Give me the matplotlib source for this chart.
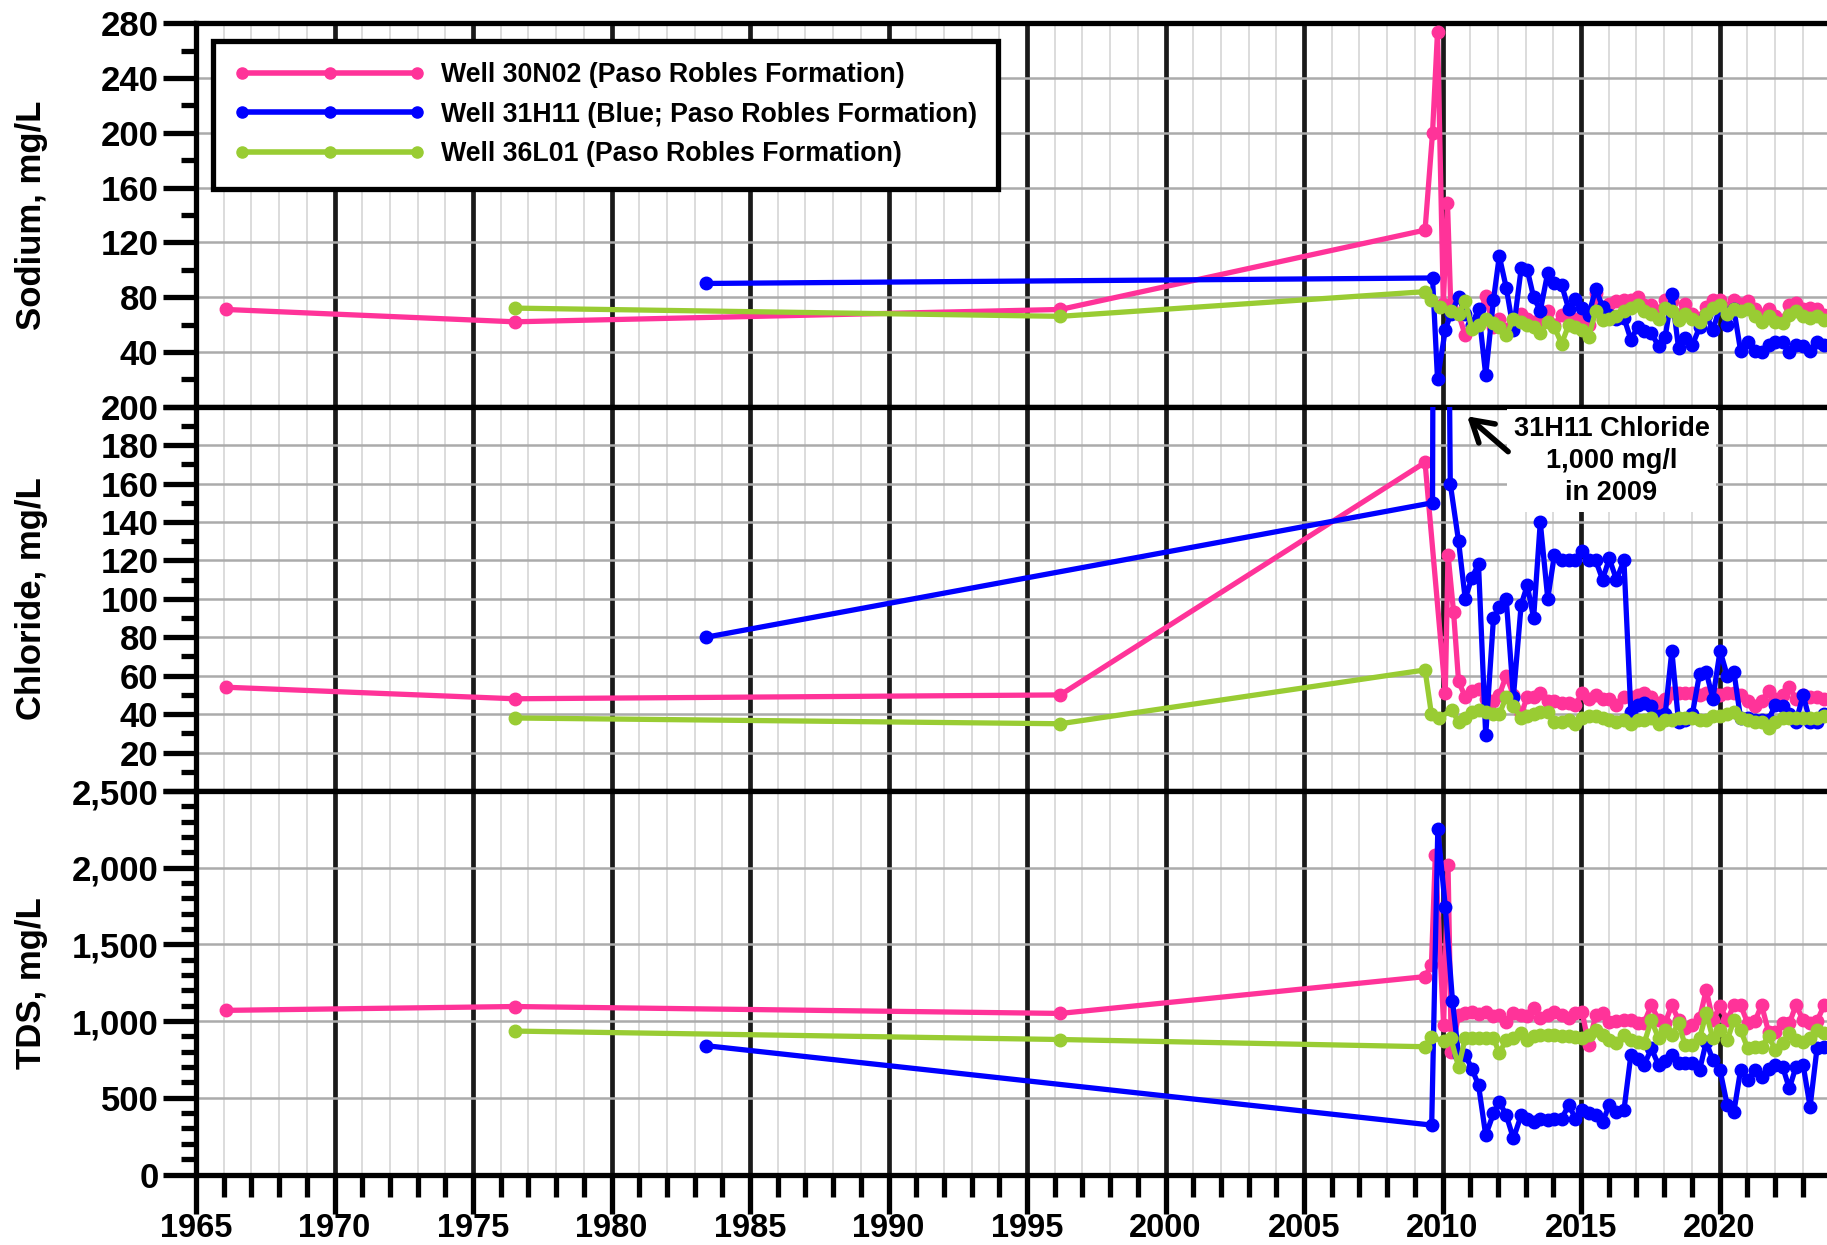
import numpy as np
import matplotlib.pyplot as plt
from matplotlib.ticker import MultipleLocator, FuncFormatter
from matplotlib.lines import Line2D

plt.rcParams['font.family'] = ['Liberation Sans', 'DejaVu Sans']
plt.rcParams['font.weight'] = 'bold'

# roughly quarterly sampling dates after 2010
q_dates = [2010.58, 2010.82, 2011.06, 2011.30, 2011.56, 2011.84, 2012.05, 2012.30, 2012.56,
           2012.84, 2013.06, 2013.29, 2013.53, 2013.80, 2014.04, 2014.30, 2014.56, 2014.80,
           2015.04, 2015.28, 2015.53, 2015.78, 2016.02, 2016.28, 2016.55, 2016.80, 2017.04,
           2017.28, 2017.54, 2017.80, 2018.04, 2018.28, 2018.52, 2018.76, 2019.02, 2019.28,
           2019.52, 2019.76, 2020.02, 2020.28, 2020.52, 2020.76, 2021.02, 2021.28, 2021.52,
           2021.77, 2022.02, 2022.28, 2022.52, 2022.76, 2023.02, 2023.27, 2023.52, 2023.78]

# ---- Sodium ----
na_30n02_yr = [1966.1, 1976.5, 1996.2, 2009.37, 2009.64, 2009.82, 2010.03, 2010.18, 2010.30]
na_30n02_early = [71, 62, 71, 129, 200, 274, 75, 149, 73]
na_30n02 = [68, 52, 60, 63, 81, 58, 64, 57, 63, 68, 64, 62, 61, 70, 60, 67, 67, 64,
            63, 60, 83, 64, 75, 77, 78, 78, 80, 74, 74, 70, 78, 77, 67, 75, 68, 65,
            73, 78, 78, 72, 78, 75, 77, 71, 67, 71, 66, 63, 74, 76, 71, 72, 71, 67]

na_31h11_yr = [1983.4, 2009.64, 2009.82, 2010.10, 2010.30]
na_31h11_early = [90, 94, 20, 56, 68]
na_31h11 = [80, 68, 60, 71, 23, 78, 110, 87, 56, 101, 100, 80, 70, 98, 90, 89, 71, 79,
            72, 67, 86, 73, 67, 64, 65, 49, 58, 55, 54, 44, 51, 82, 43, 50, 45, 58,
            67, 56, 73, 60, 71, 41, 47, 41, 40, 45, 47, 47, 40, 45, 44, 41, 47, 45]

na_36l01_yr = [1976.5, 1996.2, 2009.37, 2009.60, 2009.90, 2010.30]
na_36l01_early = [72, 66, 84, 78, 73, 70]
na_36l01 = [68, 77, 57, 60, 64, 61, 58, 52, 64, 62, 60, 58, 54, 62, 58, 46, 60, 58,
            56, 51, 70, 63, 64, 66, 70, 72, 74, 70, 68, 64, 72, 70, 63, 68, 64, 62,
            68, 72, 74, 68, 71, 70, 71, 66, 62, 66, 62, 61, 67, 70, 66, 65, 66, 63]

# ---- Chloride ----
cl_30n02_yr = [1966.1, 1976.5, 1996.2, 2009.37, 2010.10, 2010.20, 2010.40]
cl_30n02_early = [54, 48, 50, 171, 51, 123, 93]
cl_30n02 = [57, 49, 52, 53, 48, 47, 50, 60, 50, 40, 49, 49, 51, 47, 47, 46, 46, 45,
            51, 48, 50, 48, 48, 45, 49, 49, 50, 51, 49, 46, 48, 51, 51, 51, 51, 50,
            51, 51, 50, 51, 51, 50, 47, 44, 47, 52, 48, 50, 54, 48, 50, 49, 49, 48]

cl_31h11_yr = [1983.4, 2009.64, 2009.82, 2010.28]
cl_31h11_early = [80, 150, 1000, 160]
cl_31h11 = [130, 100, 111, 118, 29, 90, 96, 100, 49, 97, 107, 90, 140, 100, 123, 120, 120, 120,
            125, 120, 120, 110, 121, 110, 120, 41, 45, 46, 44, 39, 40, 73, 36, 37, 40, 61,
            62, 48, 73, 60, 62, 38, 38, 37, 37, 37, 45, 44, 40, 36, 50, 36, 36, 40]

cl_36l01_yr = [1976.5, 1996.2, 2009.37, 2009.60, 2009.86, 2010.34]
cl_36l01_early = [38, 35, 63, 40, 38, 42]
cl_36l01 = [36, 38, 41, 42, 41, 40, 40, 49, 44, 38, 39, 40, 41, 41, 36, 36, 37, 35,
            38, 39, 39, 38, 37, 36, 37, 35, 37, 37, 38, 35, 37, 37, 38, 38, 38, 37,
            37, 39, 39, 40, 41, 38, 37, 36, 36, 33, 36, 38, 38, 38, 38, 38, 38, 39]

# ---- TDS ----
tds_30n02_yr = [1966.1, 1976.5, 1996.2, 2009.37, 2009.60, 2009.74, 2010.04, 2010.20, 2010.32]
tds_30n02_early = [1070, 1095, 1050, 1290, 1365, 2080, 975, 2015, 800]
tds_30n02 = [1040, 1050, 1060, 1045, 1060, 1030, 1040, 996, 1050, 1040, 1035, 1083, 1017, 1040,
             1061, 1039, 1017, 1050, 1061, 843, 1039, 1050, 996, 1000, 1007, 1007, 985, 990,
             1104, 1007, 990, 1104, 1007, 952, 975, 1017, 1202, 1007, 1098, 1007, 1104, 1104,
             985, 1000, 1104, 930, 930, 985, 985, 1104, 1007, 985, 1000, 1104]

tds_31h11_yr = [1983.4, 2009.61, 2009.83, 2010.10, 2010.36]
tds_31h11_early = [840, 322, 2250, 1746, 1133]
tds_31h11 = [778, 778, 690, 583, 256, 398, 474, 387, 235, 387, 360, 343, 365, 355,
             360, 365, 452, 365, 419, 398, 385, 343, 452, 409, 419, 778, 750, 713,
             822, 713, 740, 778, 724, 724, 724, 680, 865, 746, 680, 452, 409, 680,
             615, 680, 637, 691, 713, 702, 561, 702, 713, 441, 822, 833]

tds_36l01_yr = [1976.5, 1996.2, 2009.37, 2009.60, 2010.04, 2010.30]
tds_36l01_early = [935, 880, 833, 895, 870, 890]
tds_36l01 = [702, 887, 890, 887, 887, 890, 789, 880, 887, 920, 880, 900, 910, 910,
             910, 905, 900, 895, 890, 910, 941, 910, 880, 854, 909, 880, 865, 855,
             1007, 887, 940, 910, 985, 843, 843, 887, 1050, 887, 941, 876, 1007, 941,
             822, 833, 833, 900, 811, 854, 920, 876, 865, 887, 941, 920]

labels = ['Well 30N02 (Paso Robles Formation)',
          'Well 31H11 (Blue; Paso Robles Formation)',
          'Well 36L01 (Paso Robles Formation)']
colors = ['#FF3399', '#0000FF', '#99CC33']

panels = [
    ('Sodium, mg/L', 280, 40, 20,
     [(na_30n02_yr, na_30n02_early, na_30n02), (na_31h11_yr, na_31h11_early, na_31h11),
      (na_36l01_yr, na_36l01_early, na_36l01)]),
    ('Chloride, mg/L', 200, 20, 10,
     [(cl_30n02_yr, cl_30n02_early, cl_30n02), (cl_31h11_yr, cl_31h11_early, cl_31h11),
      (cl_36l01_yr, cl_36l01_early, cl_36l01)]),
    ('TDS, mg/L', 2500, 500, 100,
     [(tds_30n02_yr, tds_30n02_early, tds_30n02), (tds_31h11_yr, tds_31h11_early, tds_31h11),
      (tds_36l01_yr, tds_36l01_early, tds_36l01)]),
]

W, H = 1827, 1245
fig = plt.figure(figsize=(W / 100, H / 100), dpi=100)
left = 196 / W
edges = [23.3, 406.7, 791, 1174.5]
x0, x1 = 1965, 1965 + (W - 196) / 27.7

axes = []
for i, (ylab, ymax, maj, mnr, series) in enumerate(panels):
    bot = 1 - edges[i + 1] / H
    hgt = (edges[i + 1] - edges[i]) / H
    ax = fig.add_axes([left, bot, 1 - left, hgt])
    axes.append(ax)
    ax.set_axisbelow(True)
    for (yr, early, q), c in zip(series, colors):
        ax.plot(list(yr) + q_dates, list(early) + q, color=c, lw=3.8,
                marker='o', ms=9, mec=c, zorder=3)
    ax.set_xlim(x0, x1)
    ax.set_ylim(0, ymax)
    ax.xaxis.set_major_locator(MultipleLocator(5))
    ax.xaxis.set_minor_locator(MultipleLocator(1))
    ax.yaxis.set_major_locator(MultipleLocator(maj))
    ax.yaxis.set_minor_locator(MultipleLocator(mnr))
    ax.grid(which='minor', axis='x', color='#d6d6d6', lw=1.2)
    ax.grid(which='major', axis='y', color='#ababab', lw=1.8)
    ax.grid(which='major', axis='x', color='#1a1a1a', lw=3.4)
    for s in ['left', 'top', 'bottom']:
        ax.spines[s].set_linewidth(3.8)
    ax.spines['right'].set_visible(False)
    ax.tick_params(axis='y', which='major', length=24, width=3.8, labelsize=25, pad=3)
    ax.tick_params(axis='y', which='minor', length=11, width=3.8)
    if ylab == 'TDS, mg/L':
        ax.yaxis.set_major_formatter(FuncFormatter(lambda v, p: f'{v:,.0f}'))
        ax.tick_params(axis='x', which='major', length=28, width=3.8, labelsize=23.5, pad=0)
        ax.tick_params(axis='x', which='minor', length=16, width=3.8)
    else:
        ax.yaxis.set_major_formatter(FuncFormatter(lambda v, p: '' if v == 0 else f'{v:.0f}'))
        ax.tick_params(axis='x', which='both', length=0, labelbottom=False)
    fig.text(32 / W, 1 - (edges[i] + edges[i + 1]) / 2 / H, ylab, rotation=90,
             ha='center', va='center', fontsize=25, fontweight='bold')

handles = [Line2D([0], [0], color=c, lw=4, marker='o', ms=8, mec=c) for c in colors]
leg = axes[0].legend(handles, labels, loc='upper left',
                     bbox_to_anchor=(213 / W, 1 - 41 / H), bbox_transform=fig.transFigure,
                     borderaxespad=0, fancybox=False, edgecolor='black', framealpha=1,
                     fontsize=19.3, handlelength=7.1, numpoints=3, labelspacing=0.5,
                     borderpad=0.8, handletextpad=0.6)
leg.get_frame().set_linewidth(3.8)
leg.set_zorder(10)

ax2 = axes[1]
ax2.text(2016.1, 172, '31H11 Chloride\n1,000 mg/l\nin 2009', ha='center', va='center',
         fontsize=19.5, fontweight='bold', linespacing=1.3, zorder=6,
         bbox=dict(boxstyle='square,pad=0.25', fc='white', ec='none'))
ax2.annotate('', xy=(2010.89, 195), xytext=(2012.37, 176.6), zorder=6,
             arrowprops=dict(arrowstyle='->,head_length=0.5,head_width=0.3', lw=4,
                             color='black', mutation_scale=30, shrinkA=0, shrinkB=0))

fig.savefig('out.png', dpi=100)
